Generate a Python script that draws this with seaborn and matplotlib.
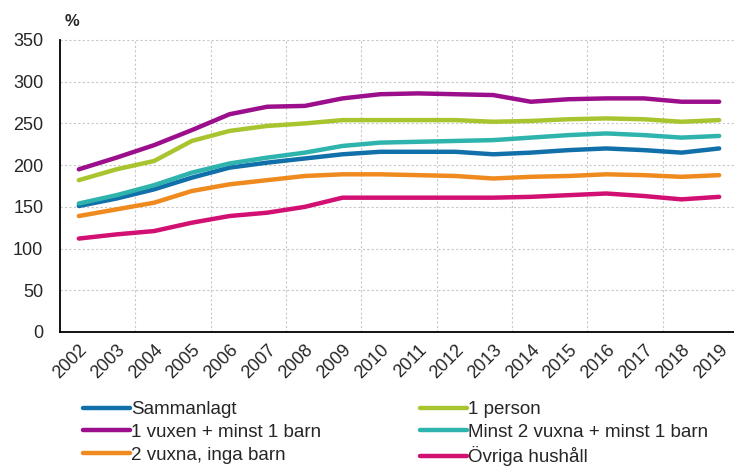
import pandas as pd
import matplotlib
matplotlib.use('Agg')
import matplotlib.pyplot as plt
import seaborn as sns

# --- data ---
years = [str(y) for y in range(2002, 2020)]

sammanlagt = [151, 160, 171, 185, 197, 203, 208, 213, 216, 216, 216, 213, 215, 218, 220, 218, 215, 220]
en_person = [182, 195, 205, 229, 241, 247, 250, 254, 254, 254, 254, 252, 253, 255, 256, 255, 252, 254]
en_vuxen_barn = [195, 209, 224, 242, 261, 270, 271, 280, 285, 286, 285, 284, 276, 279, 280, 280, 276, 276]
tva_vuxna_barn = [154, 164, 176, 191, 202, 209, 215, 223, 227, 228, 229, 230, 233, 236, 238, 236, 233, 235]
tva_vuxna_inga = [139, 147, 155, 169, 177, 182, 187, 189, 189, 188, 187, 184, 186, 187, 189, 188, 186, 188]
ovriga = [112, 117, 121, 131, 139, 143, 150, 161, 161, 161, 161, 161, 162, 164, 166, 163, 159, 162]

labels = ['Sammanlagt', '1 person', '1 vuxen + minst 1 barn',
          'Minst 2 vuxna + minst 1 barn', '2 vuxna, inga barn', 'Övriga hushåll']
colors = ['#1170aa', '#a8c530', '#9c0f8c', '#2eb3ad', '#ef8a1f', '#d20f72']
series = [sammanlagt, en_person, en_vuxen_barn, tva_vuxna_barn, tva_vuxna_inga, ovriga]

# long format for seaborn
rows = []
for lab, vals in zip(labels, series):
    for i, v in enumerate(vals):
        rows.append({'idx': i, 'value': v, 'group': lab})
df = pd.DataFrame(rows)

sns.set_style('white')
plt.rcParams['font.family'] = ['Liberation Sans', 'DejaVu Sans']

fig = plt.figure(figsize=(7.34, 4.70), dpi=100)
ax = fig.add_axes([60 / 734, 1 - 332 / 470, 678 / 734, 292 / 470])

sns.lineplot(data=df, x='idx', y='value', hue='group', hue_order=labels,
             palette=colors, linewidth=3.2, ax=ax, legend=False)

ax.set_ylim(0, 350)
ax.set_yticks(range(0, 351, 50))
ax.set_xlim(-0.5, 17.5)
ax.set_xticks(range(len(years)))
ax.set_xticklabels(years, rotation=45, ha='right', rotation_mode='anchor', fontsize=13)
ax.tick_params(axis='y', labelsize=13, length=0, pad=12)
ax.tick_params(axis='x', length=0, pad=7)
ax.set_xlabel('')
ax.set_ylabel('')

# gridlines: horizontal at every tick, vertical at every second category boundary
for v in range(50, 351, 50):
    ax.axhline(v, color='#c8c8c8', linestyle=(0, (2, 2)), linewidth=0.8, zorder=0, clip_on=False)
for b in [1.5 + 2 * k for k in range(9)]:
    ax.axvline(b, color='#c8c8c8', linestyle=(0, (2, 2)), linewidth=0.8, zorder=0)

for s in ['top', 'right']:
    ax.spines[s].set_visible(False)
ax.spines['left'].set_color('black')
ax.spines['bottom'].set_color('black')
ax.spines['left'].set_linewidth(1.3)
ax.spines['bottom'].set_linewidth(1.3)

fig.text(65 / 734, 1 - 22 / 470, '%', fontsize=12, va='center', ha='left', fontweight='bold')

# legend as two columns, placed separately to match reference spacing
cols = [[0, 2, 4], [1, 3, 5]]
col_x = [83, 420]
for xpos, idxs in zip(col_x, cols):
    handles = [plt.Line2D([], [], color=colors[i], linewidth=3.2) for i in idxs]
    leg = fig.legend(handles, [labels[i] for i in idxs], loc='upper left',
                     bbox_to_anchor=(xpos / 734, 1 - 401 / 470), frameon=False, fontsize=13.5,
                     handlelength=2.5, handletextpad=0.05, labelspacing=0.3,
                     borderaxespad=0, borderpad=0)

fig.savefig('out.png', dpi=100)
